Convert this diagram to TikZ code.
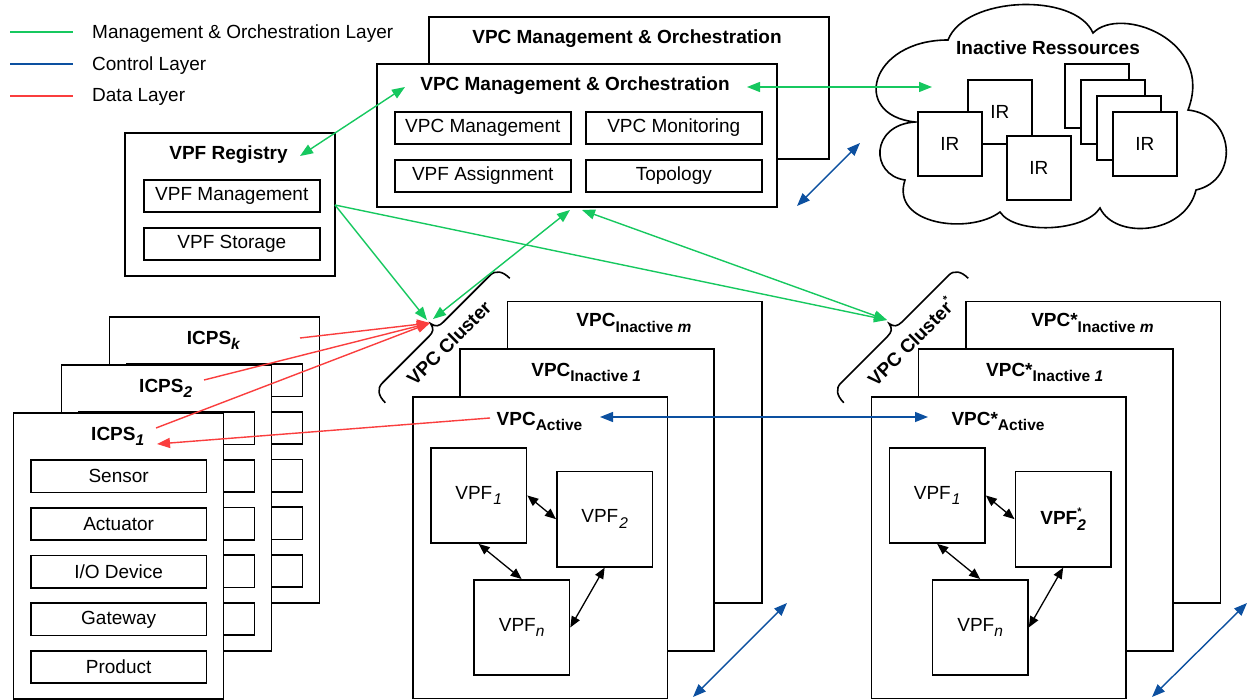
\documentclass[tikz,border=0pt]{standalone}
\usepackage{fontspec}
\setmainfont{Liberation Sans}
\usetikzlibrary{arrows.meta}
\definecolor{mogreen}{RGB}{22,200,95}
\definecolor{ctlblue}{RGB}{12,80,160}
\definecolor{datared}{RGB}{250,62,62}
\newcommand{\dfont}{\fontsize{19}{22}\selectfont}
\newcommand{\subtxt}[1]{\raisebox{-5.5pt}{\fontsize{15.5}{18}\selectfont #1}}
\newcommand{\suptxt}[1]{\raisebox{9pt}{\fontsize{11}{11}\selectfont #1}}
\tikzset{
  bx/.style={draw=black, line width=1.6pt, fill=white, inner sep=0pt},
  txtbox/.style={bx, font=\dfont, anchor=north west},
  ttl/.style={font=\dfont\bfseries, inner sep=0pt},
  lbl/.style={font=\dfont, inner sep=0pt},
  mtip/.tip={Triangle[length=13pt,width=10pt]},
  btip/.tip={Triangle[length=11pt,width=9pt]},
  mo/.style={draw=mogreen, line width=1.4pt},
  ctl/.style={draw=ctlblue, line width=1.4pt},
  dat/.style={draw=datared, line width=1.4pt},
  one/.style={-{mtip}},
  two/.style={{mtip}-{mtip}},
  vlink/.style={draw=black, line width=1.3pt, {btip}-{btip}},
  vpfbox/.style={bx, font=\dfont, anchor=north west, minimum width=95.7, minimum height=95.3},
  bigbox/.style={bx, anchor=north west, minimum width=254.4, minimum height=301.6},
  bracestyle/.style={draw=black, line width=1.6pt}
}
% ICPS stack member: x, y, name, title, five labels
\newcommand{\icps}[9]{%
  \node[bx, anchor=north west, minimum width=210, minimum height=286] (#3) at (#1,#2) {};
  \node[ttl, anchor=base] (#3t) at (#1+105,#2+28) {#4};
  \node[txtbox, minimum width=175.7, minimum height=32.3] (#3a) at (#1+17.3,#2+47) {#5};
  \node[txtbox, minimum width=175.7, minimum height=32.3] (#3b) at (#1+17.3,#2+94.7) {#6};
  \node[txtbox, minimum width=175.7, minimum height=32.3] (#3c) at (#1+17.3,#2+142.4) {#7};
  \node[txtbox, minimum width=175.7, minimum height=32.3] (#3d) at (#1+17.3,#2+190.1) {#8};
  \node[txtbox, minimum width=175.7, minimum height=32.3] (#3e) at (#1+17.3,#2+237.8) {#9};
}
% VPC cluster: xshift, prefix, VPC name, VPF2 label, cluster label, label position
\newcommand{\vpccluster}[6]{%
  \begin{scope}[xshift=#1pt]
    \node[bigbox] (#2im) at (506.7,300.7) {};
    \node[ttl, anchor=base] (#2imt) at (633.9,326.7) {#3\subtxt{Inactive \textit{m}}};
    \node[bigbox] (#2ione) at (459,348.3) {};
    \node[ttl, anchor=base] (#2ionet) at (586.2,376) {#3\subtxt{Inactive \textit{1}}};
    \node[bigbox] (#2act) at (412.3,396) {};
    \node[ttl, anchor=base] (#2actt) at (539.5,425) {#3\subtxt{Active}};
    \node[vpfbox] (#2vone) at (430,447) {VPF\subtxt{\kern1pt\textit{1}}};
    \node[vpfbox] (#2vtwo) at (556,470.7) {#4};
    \node[vpfbox] (#2vn) at (473,579) {VPF\subtxt{\textit{n}}};
    \draw[vlink] (#2vone.east) -- (#2vtwo.west);
    \draw[vlink] (#2vone.south) -- (#2vn.north);
    \draw[vlink] (#2vn.east) -- (#2vtwo.south);
    \begin{scope}[shift={(447.5,340.5)}, rotate=45]
      \draw[bracestyle] (-88,0) .. controls (-88,-10) and (-84,-16) .. (-76,-16)
        -- (-10,-16) .. controls (-4,-16) and (-1,-18) .. (0,-24)
        .. controls (1,-18) and (4,-16) .. (10,-16) -- (76,-16)
        .. controls (84,-16) and (88,-10) .. (88,0);
    \end{scope}
    \node[ttl, rotate=45] (#2cl) at (#6) {#5};
  \end{scope}
}
\begin{document}
\begin{tikzpicture}[x=1pt,y=-1pt]
\useasboundingbox (0,0) rectangle (1249,700);

% ---------- legend
\coordinate (lgaone) at (10,32);  \coordinate (lgbone) at (73,32);
\coordinate (lgatwo) at (10,64);  \coordinate (lgbtwo) at (73,64);
\coordinate (lgathr) at (10,96);  \coordinate (lgbthr) at (73,96);
\draw[mo]  (lgaone) -- (lgbone);
\draw[ctl] (lgatwo) -- (lgbtwo);
\draw[dat] (lgathr) -- (lgbthr);
\node[lbl, anchor=base west] (lgtone) at (92,38.5) {Management \& Orchestration Layer};
\node[lbl, anchor=base west] (lgttwo) at (92,70.7) {Control Layer};
\node[lbl, anchor=base west] (lgtthr) at (92,102) {Data Layer};

% ---------- ICPS stack
\icps{108.7}{316.3}{icpsk}{ICPS\subtxt{\textit{k}}}{}{}{}{}{}
\icps{60.7}{364.3}{icpstwo}{ICPS\subtxt{\textit{2}}}{}{}{}{}{}
\icps{12.7}{412.3}{icpsone}{ICPS\subtxt{\textit{1}}}{Sensor}{Actuator}{I/O Device}{Gateway}{Product}

% ---------- VPF registry
\node[bx, anchor=north west, minimum width=210, minimum height=143] (reg) at (124,132) {};
\node[ttl, anchor=base] (regt) at (228.5,159.5) {VPF Registry};
\node[txtbox, minimum width=176, minimum height=32] (regm) at (143,179) {VPF Management};
\node[txtbox, minimum width=176, minimum height=32] (regs) at (143,227) {VPF Storage};

% ---------- VPC management & orchestration
\node[bx, anchor=north west, minimum width=400, minimum height=142] (mob) at (428,16) {};
\node[ttl, anchor=base] (mobt) at (627,43.5) {VPC Management \& Orchestration};
\node[bx, anchor=north west, minimum width=400, minimum height=143] (mof) at (376,63) {};
\node[ttl, anchor=base] (moft) at (575,91) {VPC Management \& Orchestration};
\node[txtbox, minimum width=176, minimum height=32] (vpcm) at (394,111) {VPC Management};
\node[txtbox, minimum width=176, minimum height=32] (vpcmon) at (585,111) {VPC Monitoring};
\node[txtbox, minimum width=176, minimum height=32] (vpfa) at (394,159) {VPF Assignment};
\node[txtbox, minimum width=176, minimum height=32] (topo) at (585,159) {Topology};

% ---------- cloud of inactive resources
\draw[line width=1.6pt, fill=white] (948,40) .. controls (965,-4) and (1075,-8) .. (1093,33)
  .. controls (1120,5) and (1215,40) .. (1188,110)
  .. controls (1235,115) and (1240,180) .. (1196,190)
  .. controls (1185,235) and (1115,240) .. (1100,208)
  .. controls (1085,232) and (1015,235) .. (1000,212)
  .. controls (970,235) and (890,225) .. (905,180)
  .. controls (870,175) and (870,125) .. (915,122)
  .. controls (850,115) and (870,40) .. (948,40) -- cycle;
\node[ttl, anchor=base] (cloudt) at (1048,54.5) {Inactive Ressources};
\node[bx, anchor=north west, minimum width=64, minimum height=64] (irsa) at (1064,63) {};
\node[bx, anchor=north west, minimum width=64, minimum height=64] (irsb) at (1080,79) {};
\node[bx, anchor=north west, minimum width=64, minimum height=64] (irsc) at (1096,95) {};
\node[bx, anchor=north west, minimum width=64, minimum height=64, font=\dfont] (irsd) at (1112,111) {IR};
\node[bx, anchor=north west, minimum width=64, minimum height=64, font=\dfont] (irmid) at (967,79) {IR};
\node[bx, anchor=north west, minimum width=64, minimum height=64, font=\dfont] (irleft) at (917,111) {IR};
\node[bx, anchor=north west, minimum width=64, minimum height=64, font=\dfont] (irbot) at (1006,135) {IR};

% ---------- VPC clusters
\vpccluster{0}{a}{VPC}{VPF\subtxt{\kern1pt\textit{2}}}{VPC Cluster}{449,343}
\vpccluster{458.5}{b}{VPC*}{\textbf{VPF}\rlap{\suptxt{\bfseries *}}\subtxt{\bfseries\itshape 2}}{VPC Cluster\suptxt{*}}{452,341}

% ---------- connector end points
\coordinate (gonea) at (747,87);  \coordinate (goneb) at (932,87);
\coordinate (gtwoa) at (405,87);  \coordinate (gtwob) at (300,156);
\coordinate (regout) at (335,205);
\coordinate (tipga) at (427,320); \coordinate (tipgb) at (433,319);
\coordinate (mobotone) at (570,210); \coordinate (mobottwo) at (582,210);
\coordinate (tipstar) at (887,320);
\coordinate (ronestart) at (300,338); \coordinate (rtwostart) at (204,380);
\coordinate (rthrstart) at (156,428); \coordinate (tipr) at (430,323);
\coordinate (rfourstart) at (490,418); \coordinate (rfourend) at (157,444);
\coordinate (bonea) at (600,417); \coordinate (boneb) at (928,417);
\coordinate (btwoa) at (797,206); \coordinate (btwob) at (860,143);
\coordinate (bthra) at (693,697); \coordinate (bthrb) at (787,603);
\coordinate (bfoura) at (1152,697); \coordinate (bfourb) at (1247,603);

% ---------- management & orchestration layer
\draw[mo, two] (gonea) -- (goneb);
\draw[mo, two] (gtwoa) -- (gtwob);
\draw[mo, one] (regout) -- (tipga);
\draw[mo, one] (regout) -- (tipstar);
\draw[mo, two] (mobotone) -- (tipgb);
\draw[mo, two] (mobottwo) -- (tipstar);

% ---------- data layer
\draw[dat, one] (ronestart) -- (tipr);
\draw[dat, one] (rtwostart) -- (tipr);
\draw[dat, one] (rthrstart) -- (tipr);
\draw[dat, one] (rfourstart) -- (rfourend);

% ---------- control layer
\draw[ctl, two] (bonea) -- (boneb);
\draw[ctl, two] (btwoa) -- (btwob);
\draw[ctl, two] (bthra) -- (bthrb);
\draw[ctl, two] (bfoura) -- (bfourb);
\end{tikzpicture}
\end{document}
